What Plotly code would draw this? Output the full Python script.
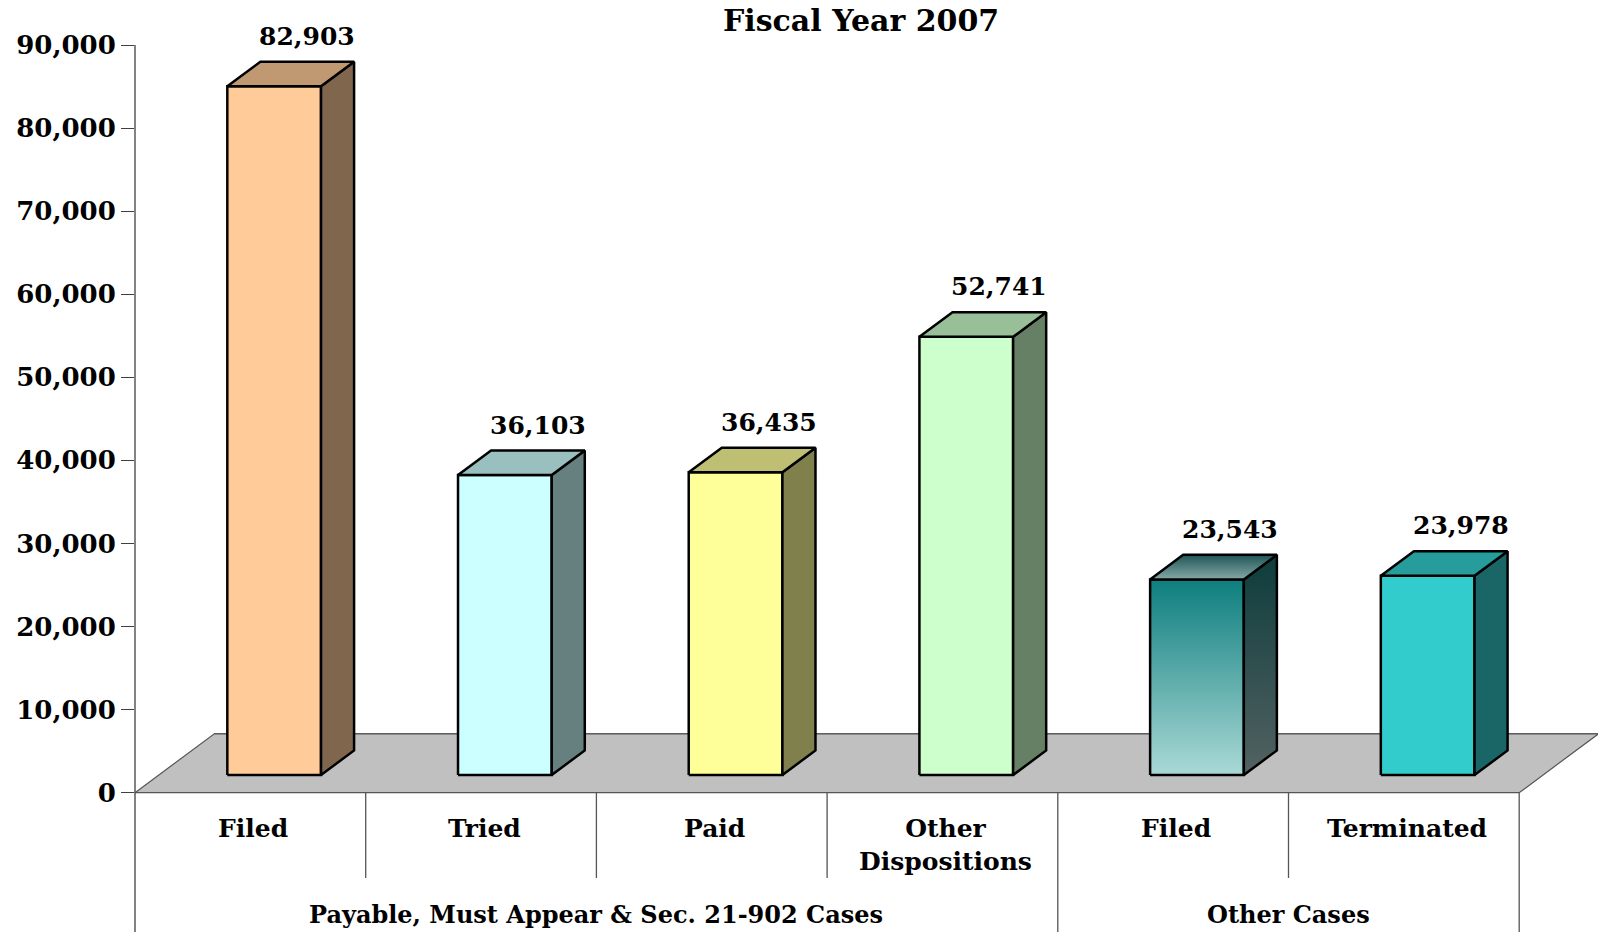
import plotly.graph_objects as go

# ---------------- data ----------------
title_text = "Fiscal Year 2007"
categories = ["Filed", "Tried", "Paid", "Other<br>Dispositions", "Filed", "Terminated"]
values = [82903, 36103, 36435, 52741, 23543, 23978]
groups = ["Payable, Must Appear & Sec. 21-902 Cases", "Other Cases"]
group_sizes = [4, 2]
tick_values = [0, 10000, 20000, 30000, 40000, 50000, 60000, 70000, 80000, 90000]

front_colors = ["#FFCC99", "#CCFFFF", "#FFFF99", "#CCFFCC", None, "#33CCCC"]
side_colors = ["#80664D", "#668080", "#80804D", "#668066", None, "#1A6666"]
top_colors = ["#C09973", "#99BFBF", "#BFBF73", "#99BF99", None, "#279C9C"]
# gradient bar (index 4): [bottom colour, top colour]
grad_front = ["#AAD9D6", "#0E7E7E"]
grad_side = ["#536262", "#0E3C3C"]
grad_top = ["#86A8A8", "#1F5656"]

# ---------------- layout geometry ----------------
W, H = 1598, 932
L = 135                # left margin (value axis position), px
CAT_PX = 230.7         # width of one category, px
Y0_PX, Y90_PX = 792.7, 45.0
VPP = 90000 / (Y0_PX - Y90_PX)   # value units per pixel
DX = 79.0 / CAT_PX               # floor depth, x units
DY = 58.7 * VPP                  # floor depth, value units
Z_FRONT, Z_BACK = 0.3015, 0.72   # bar depth placement (fraction of floor)
BAR_W = 93.7 / CAT_PX

x_range = [0, (W - L) / CAT_PX]
y_range = [-(H - Y0_PX) * VPP, Y0_PX * VPP]
n = len(values)

FONT = "DejaVu Serif"


def py(px):
    return 1 - px / H


def pxx(px):
    return (px - L) / (W - L)


fig = go.Figure()


def poly(xs, ys, color=None, grad=None, lw=2.5, lc="black"):
    kw = {}
    if grad is not None:
        kw["fillgradient"] = dict(type="vertical", colorscale=[[0, grad[0]], [1, grad[1]]],
                                  start=min(ys), stop=max(ys))
    else:
        kw["fillcolor"] = color
    fig.add_trace(go.Scatter(
        x=list(xs) + [xs[0]], y=list(ys) + [ys[0]], mode="lines", fill="toself",
        line=dict(color=lc, width=lw), hoverinfo="skip", showlegend=False, **kw))


# floor
poly([0, n, n + DX, DX], [0, 0, DY, DY], color="#C0C0C0", lw=1.2, lc="#555555")

# bars
for i, v in enumerate(values):
    c = i + 0.5
    xl = c - BAR_W / 2 + Z_FRONT * DX
    xr = c + BAR_W / 2 + Z_FRONT * DX
    yb = Z_FRONT * DY
    yt = yb + v
    ddx = (Z_BACK - Z_FRONT) * DX
    ddy = (Z_BACK - Z_FRONT) * DY
    if front_colors[i] is None:
        poly([xl, xr, xr, xl], [yb, yb, yt, yt], grad=grad_front)
        poly([xr, xr + ddx, xr + ddx, xr], [yb, yb + ddy, yt + ddy, yt], grad=grad_side)
        poly([xl, xr, xr + ddx, xl + ddx], [yt, yt, yt + ddy, yt + ddy], grad=grad_top)
    else:
        poly([xl, xr, xr, xl], [yb, yb, yt, yt], color=front_colors[i])
        poly([xr, xr + ddx, xr + ddx, xr], [yb, yb + ddy, yt + ddy, yt], color=side_colors[i])
        poly([xl, xr, xr + ddx, xl + ddx], [yt, yt, yt + ddy, yt + ddy], color=top_colors[i])

annotations = []
shapes = []

# value labels
for i, v in enumerate(values):
    annotations.append(dict(
        x=i + 0.5 + Z_BACK * DX, y=v + Z_BACK * DY, xref="x", yref="y",
        text=f"{v:,}", showarrow=False, yanchor="bottom", yshift=9,
        font=dict(family=FONT, size=25, color="black", weight="bold")))

# category labels
for i, cat in enumerate(categories):
    annotations.append(dict(
        x=i + 0.5, y=py(812), xref="x", yref="paper", text=cat, showarrow=False,
        yanchor="top", xshift=3,
        font=dict(family=FONT, size=25, color="black", weight="bold")))

# group labels
start = 0
for g, size in zip(groups, group_sizes):
    annotations.append(dict(
        x=start + size / 2, y=py(914), xref="x", yref="paper", text=g, showarrow=False,
        yanchor="middle", font=dict(family=FONT, size=24, color="black", weight="bold")))
    start += size

AX_COL = "#404040"
# value axis line (continues down as table edge)
shapes.append(dict(type="line", xref="paper", yref="y", x0=0, x1=0,
                   y0=tick_values[-1], y1=y_range[0], line=dict(color=AX_COL, width=1.3)))
# category / group dividers
bounds = [0]
for s in group_sizes:
    bounds.append(bounds[-1] + s)
for k in range(1, n):
    if k in bounds:
        y1 = y_range[0]
    else:
        y1 = -(878 - Y0_PX) * VPP
    shapes.append(dict(type="line", xref="x", yref="y", x0=k, x1=k, y0=0, y1=y1,
                       line=dict(color="#555555", width=1.3)))
shapes.append(dict(type="line", xref="x", yref="y", x0=n, x1=n, y0=0, y1=y_range[0],
                   line=dict(color="#555555", width=1.3)))
# floor back edge emphasised
shapes.append(dict(type="line", xref="x", yref="y", x0=DX, x1=n + DX, y0=DY, y1=DY,
                   line=dict(color="#666666", width=2), layer="below"))

# title
annotations.append(dict(
    x=pxx(861), y=py(20.5), xref="paper", yref="paper", text=title_text, showarrow=False,
    yanchor="middle", font=dict(family=FONT, size=30, color="black", weight="bold")))

fig.update_layout(
    width=W, height=H,
    margin=dict(l=L, r=0, t=0, b=0, pad=0),
    paper_bgcolor="white", plot_bgcolor="white",
    font=dict(family=FONT, color="black", weight="bold"),
    xaxis=dict(range=x_range, visible=False, fixedrange=True),
    yaxis=dict(range=y_range, tickvals=tick_values, tickformat=",d", ticks="outside",
               ticklen=13, tickwidth=1.3, tickcolor=AX_COL, showgrid=False, zeroline=False,
               showline=False, fixedrange=True,
               tickfont=dict(family=FONT, size=26, color="black", weight="bold")),
    annotations=annotations, shapes=shapes, showlegend=False,
)

fig.write_html("out.html", config={"displayModeBar": False},
               post_script="document.body.style.margin='0';document.body.style.overflow='hidden';")
